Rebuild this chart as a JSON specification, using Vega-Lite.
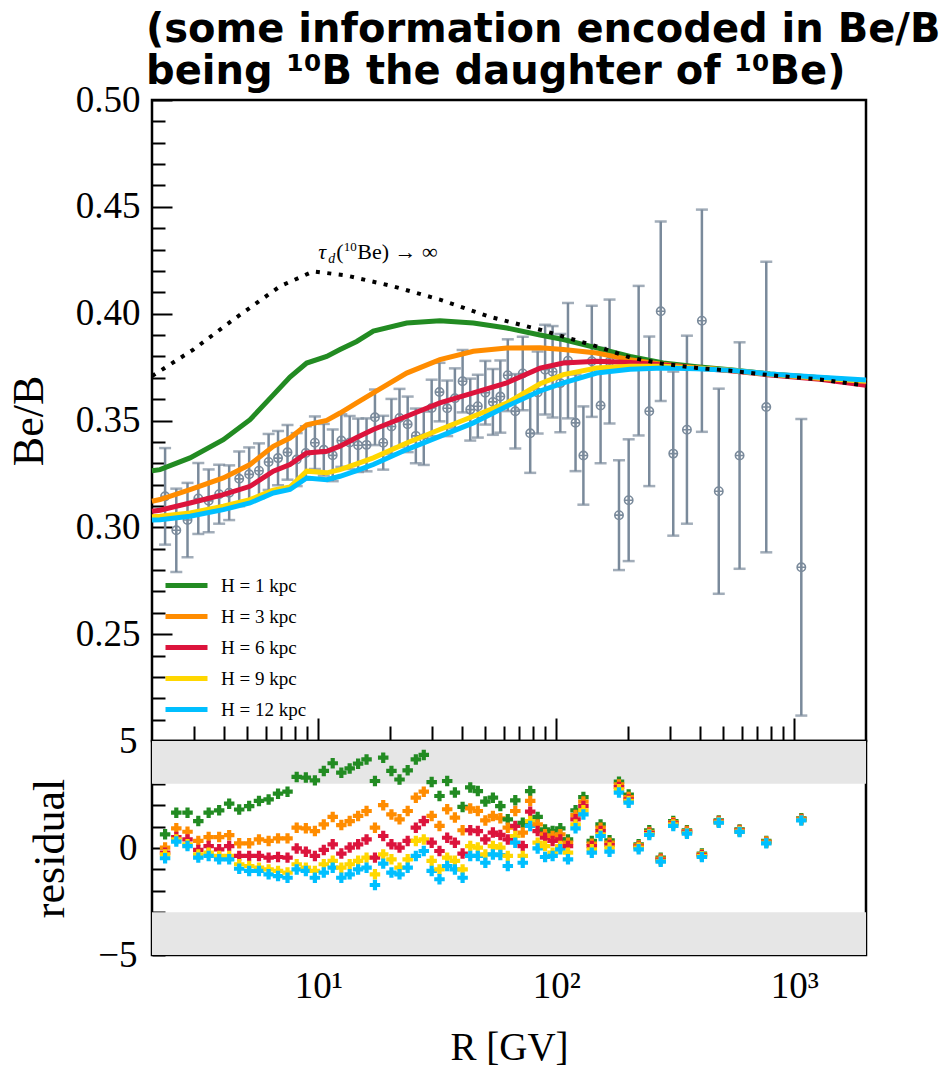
{
  "$schema": "https://vega.github.io/schema/vega-lite/v6.json",
  "background": "white",
  "padding": {"left": 6, "top": 9, "right": 5, "bottom": 0},
  "title": {
    "text": ["(some information encoded in Be/B", "being ¹⁰B the daughter of ¹⁰Be)"],
    "font": "DejaVu Sans", "fontSize": 40, "fontWeight": "bold", "color": "black",
    "lineHeight": 42, "anchor": "start", "offset": -12, "dx": 140
  },
  "config": {
    "view": {"stroke": "black", "strokeWidth": 2.5},
    "axis": {
      "domain": false, "grid": false, "tickColor": "black", "tickWidth": 2,
      "labelFont": "Liberation Serif", "labelColor": "black", "labelFontSize": 37,
      "titleFont": "Liberation Serif", "titleFontWeight": "normal", "titleColor": "black",
      "labelFlush": false, "labelOverlap": false, "labelBound": false
    }
  },
  "bounds": "flush",
  "spacing": 0,
  "resolve": {
    "scale": {"x": "independent", "y": "independent", "color": "independent"},
    "legend": {"color": "independent"}
  },
  "datasets": {
    "points": [{"R":2.27,"v":0.3145,"err":0.0226},{"R":2.53,"v":0.2986,"err":0.0195},{"R":2.82,"v":0.3034,"err":0.0174},{"R":3.13,"v":0.3135,"err":0.0166},{"R":3.46,"v":0.3124,"err":0.0147},{"R":3.83,"v":0.3155,"err":0.0138},{"R":4.22,"v":0.3162,"err":0.0128},{"R":4.65,"v":0.3227,"err":0.0128},{"R":5.12,"v":0.3248,"err":0.0126},{"R":5.63,"v":0.3265,"err":0.0128},{"R":6.18,"v":0.3306,"err":0.0131},{"R":6.77,"v":0.3324,"err":0.0127},{"R":7.42,"v":0.3351,"err":0.0128},{"R":8.11,"v":0.3317,"err":0.0124},{"R":8.86,"v":0.3348,"err":0.0125},{"R":9.67,"v":0.3396,"err":0.0123},{"R":10.54,"v":0.3363,"err":0.0121},{"R":11.49,"v":0.3337,"err":0.0121},{"R":12.49,"v":0.3406,"err":0.0123},{"R":13.54,"v":0.3397,"err":0.0124},{"R":14.69,"v":0.3384,"err":0.0125},{"R":15.94,"v":0.3386,"err":0.0124},{"R":17.29,"v":0.3515,"err":0.013},{"R":18.73,"v":0.3396,"err":0.0126},{"R":20.28,"v":0.3472,"err":0.0129},{"R":21.93,"v":0.3512,"err":0.0136},{"R":23.73,"v":0.3482,"err":0.013},{"R":25.68,"v":0.3428,"err":0.0128},{"R":27.73,"v":0.3417,"err":0.0125},{"R":29.93,"v":0.3559,"err":0.0132},{"R":32.28,"v":0.3633,"err":0.0137},{"R":34.78,"v":0.3557,"err":0.013},{"R":37.47,"v":0.3604,"err":0.014},{"R":40.37,"v":0.3684,"err":0.0146},{"R":43.47,"v":0.3551,"err":0.0145},{"R":46.77,"v":0.3567,"err":0.0147},{"R":50.31,"v":0.363,"err":0.0149},{"R":54.12,"v":0.3587,"err":0.0154},{"R":58.16,"v":0.3612,"err":0.0169},{"R":62.51,"v":0.3712,"err":0.0168},{"R":67.21,"v":0.3543,"err":0.0174},{"R":72.25,"v":0.372,"err":0.0172},{"R":77.65,"v":0.344,"err":0.0185},{"R":83.45,"v":0.3631,"err":0.0192},{"R":89.69,"v":0.3738,"err":0.021},{"R":96.44,"v":0.3728,"err":0.0214},{"R":103.9,"v":0.3675,"err":0.023},{"R":111.9,"v":0.378,"err":0.027},{"R":120.4,"v":0.3489,"err":0.0226},{"R":129.9,"v":0.3336,"err":0.023},{"R":140.9,"v":0.3777,"err":0.026},{"R":153.4,"v":0.357,"err":0.027},{"R":167.3,"v":0.3776,"err":0.029},{"R":183.3,"v":0.3057,"err":0.0257},{"R":201.3,"v":0.3127,"err":0.0285},{"R":221.7,"v":0.378,"err":0.035},{"R":245.7,"v":0.3543,"err":0.035},{"R":274.5,"v":0.4011,"err":0.042},{"R":309.9,"v":0.3345,"err":0.0384},{"R":353.7,"v":0.3457,"err":0.044},{"R":408.8,"v":0.3967,"err":0.052},{"R":481.3,"v":0.3169,"err":0.048},{"R":588.6,"v":0.3336,"err":0.053},{"R":762.1,"v":0.3563,"err":0.068},{"R":1069.6,"v":0.2813,"err":0.0694}],
    "models": [
      {"R":2.0,"h1":0.3265,"h3":0.3122,"h6":0.3075,"h9":0.305,"h12":0.3034},
      {"R":2.161,"h1":0.327,"h3":0.313,"h6":0.308,"h9":0.3052,"h12":0.3036},
      {"R":2.889,"h1":0.3325,"h3":0.3177,"h6":0.3114,"h9":0.3067,"h12":0.3052},
      {"R":3.988,"h1":0.341,"h3":0.3231,"h6":0.3153,"h9":0.3099,"h12":0.3083},
      {"R":5.163,"h1":0.3504,"h3":0.3294,"h6":0.3192,"h9":0.313,"h12":0.3114},
      {"R":6.467,"h1":0.362,"h3":0.3379,"h6":0.3263,"h9":0.3174,"h12":0.3161},
      {"R":7.6,"h1":0.3703,"h3":0.3418,"h6":0.3294,"h9":0.3189,"h12":0.3177},
      {"R":8.93,"h1":0.3769,"h3":0.348,"h6":0.3348,"h9":0.3263,"h12":0.3231},
      {"R":10.84,"h1":0.38,"h3":0.35,"h6":0.3356,"h9":0.3255,"h12":0.3223},
      {"R":12.33,"h1":0.3832,"h3":0.3535,"h6":0.338,"h9":0.327,"h12":0.3239},
      {"R":14.49,"h1":0.387,"h3":0.3582,"h6":0.342,"h9":0.3297,"h12":0.3265},
      {"R":17.02,"h1":0.3918,"h3":0.3629,"h6":0.3458,"h9":0.3325,"h12":0.3294},
      {"R":23.5,"h1":0.3956,"h3":0.3722,"h6":0.352,"h9":0.3395,"h12":0.3364},
      {"R":32.4,"h1":0.3967,"h3":0.3785,"h6":0.3582,"h9":0.3458,"h12":0.3426},
      {"R":44.8,"h1":0.3956,"h3":0.3824,"h6":0.3629,"h9":0.352,"h12":0.3489},
      {"R":61.9,"h1":0.3933,"h3":0.3839,"h6":0.3676,"h9":0.3582,"h12":0.3567},
      {"R":85.4,"h1":0.39,"h3":0.384,"h6":0.3745,"h9":0.3672,"h12":0.3638},
      {"R":107,"h1":0.3879,"h3":0.3832,"h6":0.3769,"h9":0.3715,"h12":0.3676},
      {"R":147.7,"h1":0.384,"h3":0.3816,"h6":0.3777,"h9":0.3746,"h12":0.3722},
      {"R":204,"h1":0.38,"h3":0.3785,"h6":0.3772,"h9":0.3754,"h12":0.374},
      {"R":281,"h1":0.3769,"h3":0.3762,"h6":0.376,"h9":0.3754,"h12":0.3746},
      {"R":389,"h1":0.3752,"h3":0.3746,"h6":0.3746,"h9":0.3746,"h12":0.3742},
      {"R":537,"h1":0.3738,"h3":0.3735,"h6":0.3733,"h9":0.3735,"h12":0.3735},
      {"R":790,"h1":0.3718,"h3":0.3717,"h6":0.3713,"h9":0.3716,"h12":0.3718},
      {"R":1282,"h1":0.37,"h3":0.37,"h6":0.3693,"h9":0.3698,"h12":0.3702},
      {"R":2000,"h1":0.3685,"h3":0.3684,"h6":0.3665,"h9":0.3684,"h12":0.369}
    ],
    "dotted": [{"R":2.0,"v":0.3708},{"R":2.197,"v":0.3737},{"R":2.983,"v":0.3832},{"R":4.391,"v":0.3972},{"R":6.9,"v":0.4128},{"R":9.52,"v":0.4198},{"R":13.2,"v":0.4178},{"R":20.6,"v":0.4128},{"R":32.4,"v":0.4066},{"R":52.6,"v":0.3985},{"R":85.4,"v":0.3925},{"R":125.6,"v":0.387},{"R":147.7,"v":0.3847},{"R":204,"v":0.3795},{"R":281,"v":0.3765},{"R":389,"v":0.3746},{"R":537,"v":0.3733},{"R":790,"v":0.3712},{"R":1282,"v":0.3692},{"R":2000,"v":0.3663}],
    "annot": [{"R":10.0,"v":0.4256}],
    "bands": [{"R":2,"R2":2000,"r":3,"r2":5},{"R":2,"R2":2000,"r":-5,"r2":-3}],
    "resid": [
      {"R":2.27,"h1":0.64,"h3":0.02,"h6":-0.22,"h9":-0.3,"h12":-0.48},
      {"R":2.53,"h1":1.65,"h3":0.92,"h6":0.51,"h9":0.4,"h12":0.3},
      {"R":2.82,"h1":1.65,"h3":0.76,"h6":0.4,"h9":0.17,"h12":0.09},
      {"R":3.13,"h1":1.26,"h3":0.33,"h6":-0.09,"h9":-0.3,"h12":-0.45},
      {"R":3.46,"h1":1.65,"h3":0.51,"h6":0.09,"h9":-0.22,"h12":-0.37},
      {"R":3.83,"h1":1.76,"h3":0.51,"h6":-0.06,"h9":-0.37,"h12":-0.53},
      {"R":4.22,"h1":2.07,"h3":0.6,"h6":0.09,"h9":-0.37,"h12":-0.53},
      {"R":4.65,"h1":1.8,"h3":0.22,"h6":-0.37,"h9":-0.76,"h12":-0.97},
      {"R":5.12,"h1":1.96,"h3":0.22,"h6":-0.37,"h9":-0.84,"h12":-1.07},
      {"R":5.63,"h1":2.2,"h3":0.4,"h6":-0.37,"h9":-0.92,"h12":-1.07},
      {"R":6.18,"h1":2.27,"h3":0.33,"h6":-0.45,"h9":-1.0,"h12":-1.23},
      {"R":6.77,"h1":2.54,"h3":0.45,"h6":-0.42,"h9":-1.07,"h12":-1.31},
      {"R":7.42,"h1":2.63,"h3":0.45,"h6":-0.45,"h9":-1.15,"h12":-1.39},
      {"R":8.11,"h1":3.32,"h3":0.95,"h6":-0.02,"h9":-0.76,"h12":-1.0},
      {"R":8.86,"h1":3.29,"h3":0.92,"h6":-0.17,"h9":-0.92,"h12":-1.07},
      {"R":9.67,"h1":3.16,"h3":0.79,"h6":-0.37,"h9":-1.07,"h12":-1.39},
      {"R":10.54,"h1":3.6,"h3":1.1,"h6":-0.09,"h9":-0.76,"h12":-1.15},
      {"R":11.49,"h1":3.96,"h3":1.45,"h6":0.17,"h9":-0.6,"h12":-0.92},
      {"R":12.49,"h1":3.52,"h3":1.07,"h6":-0.26,"h9":-0.92,"h12":-1.39},
      {"R":13.54,"h1":3.72,"h3":1.26,"h6":0.02,"h9":-0.76,"h12":-1.23},
      {"R":14.69,"h1":3.94,"h3":1.5,"h6":0.17,"h9":-0.6,"h12":-1.0},
      {"R":15.94,"h1":4.14,"h3":1.73,"h6":0.4,"h9":-0.45,"h12":-0.92},
      {"R":17.29,"h1":3.13,"h3":0.95,"h6":-0.45,"h9":-1.23,"h12":-1.73},
      {"R":18.73,"h1":4.22,"h3":2.0,"h6":0.56,"h9":-0.3,"h12":-0.73},
      {"R":20.28,"h1":3.6,"h3":1.57,"h6":0.17,"h9":-0.53,"h12":-1.15},
      {"R":21.93,"h1":3.2,"h3":1.34,"h6":0.02,"h9":-0.92,"h12":-1.23},
      {"R":23.73,"h1":3.63,"h3":1.73,"h6":0.33,"h9":-0.53,"h12":-0.92},
      {"R":25.68,"h1":4.14,"h3":2.35,"h6":0.95,"h9":0.33,"h12":-0.37},
      {"R":27.73,"h1":4.35,"h3":2.63,"h6":1.26,"h9":0.4,"h12":-0.14},
      {"R":29.93,"h1":3.08,"h3":1.5,"h6":0.25,"h9":-0.6,"h12":-1.07},
      {"R":32.28,"h1":2.43,"h3":1.03,"h6":-0.14,"h9":-1.0,"h12":-1.46},
      {"R":34.78,"h1":3.13,"h3":1.81,"h6":0.48,"h9":-0.45,"h12":-0.84},
      {"R":37.47,"h1":2.59,"h3":1.42,"h6":0.25,"h9":-0.6,"h12":-1.0},
      {"R":40.37,"h1":1.92,"h3":0.83,"h6":-0.26,"h9":-1.0,"h12":-1.39},
      {"R":43.47,"h1":2.83,"h3":1.85,"h6":0.83,"h9":0.09,"h12":-0.37},
      {"R":46.77,"h1":2.66,"h3":1.73,"h6":0.79,"h9":0.02,"h12":-0.37},
      {"R":50.31,"h1":2.17,"h3":1.29,"h6":0.4,"h9":-0.3,"h12":-0.69},
      {"R":54.12,"h1":2.35,"h3":1.5,"h6":0.72,"h9":0.09,"h12":-0.3},
      {"R":58.16,"h1":1.96,"h3":1.39,"h6":0.61,"h9":0.02,"h12":-0.33},
      {"R":62.51,"h1":1.34,"h3":0.95,"h6":0.4,"h9":-0.37,"h12":-0.84},
      {"R":67.21,"h1":2.23,"h3":1.73,"h6":1.03,"h9":0.56,"h12":0.25},
      {"R":72.25,"h1":1.18,"h3":0.72,"h6":0.09,"h9":-0.37,"h12":-0.69},
      {"R":77.65,"h1":2.66,"h3":2.2,"h6":1.7,"h9":1.26,"h12":1.03},
      {"R":83.45,"h1":1.45,"h3":1.1,"h6":0.79,"h9":0.25,"h12":-0.02},
      {"R":89.69,"h1":0.87,"h3":0.64,"h6":0.48,"h9":0.09,"h12":-0.42},
      {"R":96.44,"h1":0.79,"h3":0.56,"h6":0.33,"h9":-0.22,"h12":-0.37},
      {"R":103.9,"h1":0.92,"h3":0.64,"h6":0.4,"h9":0.09,"h12":-0.06},
      {"R":111.9,"h1":0.4,"h3":0.25,"h6":0.09,"h9":-0.22,"h12":-0.53},
      {"R":120.4,"h1":1.76,"h3":1.54,"h6":1.34,"h9":1.1,"h12":0.92},
      {"R":129.9,"h1":2.38,"h3":2.17,"h6":1.96,"h9":1.76,"h12":1.57},
      {"R":140.9,"h1":0.33,"h3":0.2,"h6":0.09,"h9":-0.06,"h12":-0.22},
      {"R":153.4,"h1":1.1,"h3":0.95,"h6":0.79,"h9":0.64,"h12":0.56},
      {"R":167.3,"h1":0.36,"h3":0.25,"h6":0.14,"h9":0.02,"h12":-0.17},
      {"R":183.3,"h1":3.1,"h3":2.97,"h6":2.85,"h9":2.74,"h12":2.59},
      {"R":201.3,"h1":2.5,"h3":2.38,"h6":2.27,"h9":2.2,"h12":2.12},
      {"R":221.7,"h1":0.17,"h3":0.12,"h6":0.06,"h9":0.02,"h12":-0.06},
      {"R":245.7,"h1":0.83,"h3":0.75,"h6":0.7,"h9":0.65,"h12":0.61},
      {"R":274.5,"h1":-0.45,"h3":-0.5,"h6":-0.55,"h9":-0.6,"h12":-0.64},
      {"R":309.9,"h1":1.26,"h3":1.2,"h6":1.15,"h9":1.1,"h12":1.03},
      {"R":353.7,"h1":0.83,"h3":0.79,"h6":0.75,"h9":0.71,"h12":0.67},
      {"R":408.8,"h1":-0.26,"h3":-0.3,"h6":-0.34,"h9":-0.38,"h12":-0.42},
      {"R":481.3,"h1":1.29,"h3":1.26,"h6":1.23,"h9":1.2,"h12":1.18},
      {"R":588.6,"h1":0.87,"h3":0.84,"h6":0.81,"h9":0.78,"h12":0.75},
      {"R":762.1,"h1":0.33,"h3":0.3,"h6":0.27,"h9":0.25,"h12":0.22},
      {"R":1069.6,"h1":1.39,"h3":1.36,"h6":1.33,"h9":1.31,"h12":1.29}
    ]
  },
  "vconcat": [
    {
      "width": 714, "height": 641,
      "encoding": {
        "x": {"field": "R", "type": "quantitative",
          "scale": {"type": "log", "domain": [2, 2000]},
          "axis": {"orient": "bottom", "title": null, "labels": false,
            "values": [3,4,5,6,7,8,9,10,20,30,40,50,60,70,80,90,100,200,300,400,500,600,700,800,900,1000],
            "tickSize": {"condition": {"test": "datum.value==10||datum.value==100||datum.value==1000", "value": -23}, "value": -15}}},
        "y": {"field": "v", "type": "quantitative",
          "scale": {"domain": [0.2, 0.5], "zero": false, "nice": false},
          "axis": {"title": "Be/B", "titleFontSize": 44, "titlePadding": 24, "labelPadding": 32,
            "values": [0.2,0.21,0.22,0.23,0.24,0.25,0.26,0.27,0.28,0.29,0.3,0.31,0.32,0.33,0.34,0.35,0.36,0.37,0.38,0.39,0.4,0.41,0.42,0.43,0.44,0.45,0.46,0.47,0.48,0.49,0.5],
            "labelExpr": "(abs(datum.value*20-round(datum.value*20))<0.001 && datum.value>0.21) ? format(datum.value,'.2f') : ''",
            "tickSize": {"condition": {"test": "abs(datum.value*20-round(datum.value*20))<0.001", "value": -20}, "value": -13}}}
      },
      "layer": [
        {"data": {"name": "points"},
         "mark": {"type": "errorbar", "ticks": true, "size": 12, "thickness": 2.5, "color": "#7a8a9b"},
         "encoding": {"yError": {"field": "err"}}},
        {"data": {"name": "points"},
         "mark": {"type": "point", "shape": "M-1,0A1,1,0,1,0,1,0A1,1,0,1,0,-1,0ZM-1,0H1M0,-1V1", "size": 70, "filled": false, "stroke": "#7a8a9b", "strokeWidth": 1.6, "opacity": 1}},
        {"data": {"name": "models"},
         "transform": [{"fold": ["h1","h3","h6","h9","h12"], "as": ["H","v"]}],
         "mark": {"type": "line", "strokeWidth": 5},
         "encoding": {"color": {"field": "H", "type": "nominal",
           "scale": {"domain": ["h1","h3","h6","h9","h12"], "range": ["#228b22","#ff8c00","#dc143c","#ffd700","#00bfff"]},
           "legend": {"orient": "none", "legendX": 21.5, "legendY": 472.5, "title": null,
             "symbolType": "M-2,0H2", "symbolSize": 441, "symbolStrokeWidth": 5,
             "labelFont": "Liberation Serif", "labelFontSize": 19, "labelColor": "black",
             "labelOffset": 21.5, "rowPadding": 8, "padding": 0,
             "labelExpr": "replace(datum.label,'h','H = ') + ' kpc'"}}}},
        {"data": {"name": "dotted"},
         "mark": {"type": "line", "color": "black", "strokeWidth": 4, "strokeDash": [4, 7.5], "strokeCap": "butt"},
         "encoding": {}},
        {"data": {"name": "annot"},
         "mark": {"type": "text", "text": "τ", "font": "Liberation Serif", "fontSize": 22, "fontStyle": "italic", "align": "left", "baseline": "alphabetic", "color": "black"}},
        {"data": {"name": "annot"},
         "mark": {"type": "text", "text": "d", "font": "Liberation Serif", "fontSize": 14, "fontStyle": "italic", "align": "left", "baseline": "alphabetic", "dx": 10, "dy": 4, "color": "black"}},
        {"data": {"name": "annot"},
         "mark": {"type": "text", "text": "(", "font": "Liberation Serif", "fontSize": 22, "align": "left", "baseline": "alphabetic", "dx": 18, "color": "black"}},
        {"data": {"name": "annot"},
         "mark": {"type": "text", "text": "10", "font": "Liberation Serif", "fontSize": 13, "align": "left", "baseline": "alphabetic", "dx": 25.5, "dy": -8, "color": "black"}},
        {"data": {"name": "annot"},
         "mark": {"type": "text", "text": "Be) → ∞", "font": "Liberation Serif", "fontSize": 22, "align": "left", "baseline": "alphabetic", "dx": 39, "color": "black"}}
      ]
    },
    {
      "width": 714, "height": 214,
      "encoding": {
        "x": {"field": "R", "type": "quantitative",
          "scale": {"type": "log", "domain": [2, 2000]},
          "axis": {"orient": "bottom", "title": "R [GV]", "titleFontSize": 39, "titlePadding": 15, "labelPadding": 36,
            "values": [3,4,5,6,7,8,9,10,20,30,40,50,60,70,80,90,100,200,300,400,500,600,700,800,900,1000],
            "labelExpr": "datum.value==10 ? '10¹' : datum.value==100 ? '10²' : datum.value==1000 ? '10³' : ''",
            "tickSize": {"condition": {"test": "datum.value==10||datum.value==100||datum.value==1000", "value": -23}, "value": -14}}},
        "y": {"field": "r", "type": "quantitative",
          "scale": {"domain": [-5, 5], "zero": false, "nice": false},
          "axis": {"title": "residual", "titleFontSize": 44, "titlePadding": 25, "labelPadding": 28,
            "values": [-5,-4,-3,-2,-1,0,1,2,3,4,5], "tickSize": -13,
            "labelExpr": "datum.value==5 ? '5' : datum.value==0 ? '0' : datum.value==-5 ? '−5' : ''"}}
      },
      "layer": [
        {"data": {"name": "bands"},
         "mark": {"type": "rect", "color": "#e6e6e6"},
         "encoding": {"x2": {"field": "R2"}, "y2": {"field": "r2"}}},
        {"data": {"name": "resid"},
         "transform": [{"fold": ["h1","h3","h6","h9","h12"], "as": ["H","r"]}],
         "mark": {"type": "point", "shape": "cross", "filled": true, "size": 110, "opacity": 1},
         "encoding": {"color": {"field": "H", "type": "nominal",
           "scale": {"domain": ["h1","h3","h6","h9","h12"], "range": ["#228b22","#ff8c00","#dc143c","#ffd700","#00bfff"]},
           "legend": null}}}
      ]
    }
  ]
}
